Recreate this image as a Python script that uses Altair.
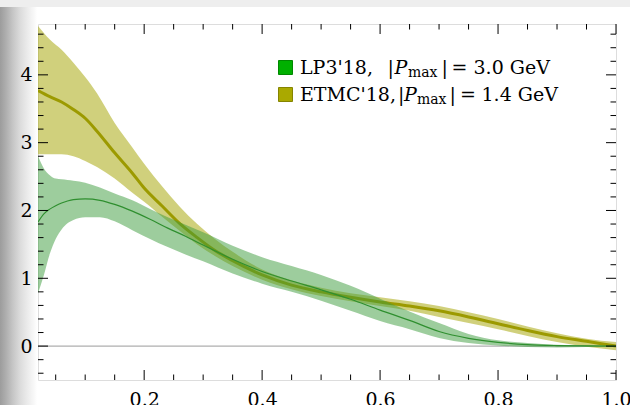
import altair as alt
import pandas as pd

# ---------------- data ----------------
lp3_x = [0.02, 0.03, 0.04, 0.05, 0.06, 0.07, 0.08, 0.10, 0.125, 0.15, 0.18, 0.21, 0.24,
         0.27, 0.30, 0.35, 0.40, 0.45, 0.50, 0.55, 0.60, 0.65, 0.70, 0.75, 0.80, 0.85,
         0.90, 0.95, 1.0]
lp3_mid = [1.83, 1.95, 2.02, 2.07, 2.11, 2.14, 2.16, 2.17, 2.15, 2.09, 1.99, 1.87, 1.74,
           1.62, 1.49, 1.28, 1.10, 0.96, 0.83, 0.69, 0.53, 0.38, 0.215, 0.115, 0.055, 0.022,
           0.008, 0.002, 0.0]
lp3_hi = [2.80, 2.62, 2.52, 2.47, 2.46, 2.45, 2.44, 2.41, 2.34, 2.25, 2.15, 2.02, 1.90,
          1.79, 1.68, 1.48, 1.31, 1.18, 1.05, 0.89, 0.70, 0.51, 0.34, 0.18, 0.085, 0.045,
          0.02, 0.01, 0.0]
lp3_lo = [0.78, 1.05, 1.36, 1.58, 1.72, 1.81, 1.86, 1.90, 1.90, 1.84, 1.71, 1.58, 1.46,
          1.35, 1.25, 1.07, 0.92, 0.80, 0.67, 0.52, 0.37, 0.25, 0.12, 0.045, 0.01, -0.015,
          -0.02, -0.015, 0.0]

etmc_x = [0.02, 0.04, 0.06, 0.08, 0.10, 0.12, 0.15, 0.18, 0.20, 0.23, 0.26, 0.29, 0.32,
          0.35, 0.40, 0.45, 0.50, 0.55, 0.60, 0.65, 0.70, 0.75, 0.80, 0.85, 0.90, 0.95, 1.0]
etmc_mid = [3.77, 3.68, 3.60, 3.49, 3.36, 3.17, 2.85, 2.55, 2.33, 2.07, 1.81, 1.60, 1.41,
            1.26, 1.05, 0.90, 0.80, 0.72, 0.65, 0.59, 0.52, 0.43, 0.33, 0.23, 0.14, 0.07, 0.0]
etmc_hi = [4.72, 4.52, 4.37, 4.18, 3.97, 3.73, 3.29, 2.93, 2.69, 2.36, 2.06, 1.80, 1.58,
           1.39, 1.13, 0.97, 0.86, 0.78, 0.72, 0.66, 0.59, 0.50, 0.40, 0.29, 0.19, 0.11, 0.06]
etmc_lo = [2.83, 2.83, 2.83, 2.80, 2.73, 2.64, 2.47, 2.26, 2.13, 1.91, 1.70, 1.50, 1.33,
           1.18, 0.98, 0.84, 0.74, 0.66, 0.59, 0.52, 0.43, 0.34, 0.25, 0.15, 0.06, -0.01, -0.06]

series_names = ["LP3'18", "ETMC'18"]
pmax_values = ["3.0", "1.4"]

x_tick_labels = [0.2, 0.4, 0.6, 0.8, 1.0]
y_tick_labels = [0, 1, 2, 3, 4]
x_minor = [0.05, 0.1, 0.15, 0.25, 0.3, 0.35, 0.45, 0.5, 0.55, 0.65, 0.7, 0.75, 0.85, 0.9, 0.95]
y_minor = [-0.4, -0.2, 0.2, 0.4, 0.6, 0.8, 1.2, 1.4, 1.6, 1.8, 2.2, 2.4, 2.6, 2.8,
           3.2, 3.4, 3.6, 3.8, 4.2, 4.4, 4.6]

# ---------------- layout ----------------
W, H = 578, 356
PL, PT, PR, PB = 38, 24, 14, 25
FONT = "DejaVu Serif"

xs = alt.Scale(domain=[0.02, 1.0], nice=False, zero=False)
ys = alt.Scale(domain=[-0.5, 4.75], nice=False, zero=False)

xaxis = alt.Axis(values=x_tick_labels, format=".1f", ticks=False, tickSize=0, domain=False,
                 grid=False, labelFont=FONT, labelFontSize=19, labelColor="black",
                 labelPadding=10, labelFlush=False, labelOverlap=False, title=None, zindex=1)
yaxis = alt.Axis(values=y_tick_labels, format="d", ticks=False, tickSize=0, domain=False,
                 grid=False, labelFont=FONT, labelFontSize=19, labelColor="black",
                 labelPadding=6, labelFlush=False, labelOverlap=False, title=None, zindex=1)

one = pd.DataFrame({"a": [0]})
lp3 = pd.DataFrame({"x": lp3_x, "lo": lp3_lo, "mid": lp3_mid, "hi": lp3_hi})
etmc = pd.DataFrame({"x": etmc_x, "lo": etmc_lo, "mid": etmc_mid, "hi": etmc_hi})

layers = []

X = alt.X("x:Q", scale=xs, axis=xaxis)

# zero line
layers.append(alt.Chart(pd.DataFrame({"y": [0]})).mark_rule(color="#9a9a9a", strokeWidth=1).encode(
    y=alt.Y("y:Q", scale=ys, axis=yaxis)))

layers.append(alt.Chart(etmc).mark_area(interpolate="monotone", color="#aaaa10", opacity=0.55,
                                        clip=True).encode(
    x=X, y=alt.Y("hi:Q", scale=ys, axis=yaxis), y2="lo:Q"))
layers.append(alt.Chart(etmc).mark_line(interpolate="monotone", color="#9c9a00", strokeWidth=3,
                                        clip=True).encode(
    x=X, y=alt.Y("mid:Q", scale=ys, axis=yaxis)))
layers.append(alt.Chart(lp3).mark_area(interpolate="monotone", color="#3c9c3c", opacity=0.5,
                                       clip=True).encode(
    x=X, y=alt.Y("hi:Q", scale=ys, axis=yaxis), y2="lo:Q"))
layers.append(alt.Chart(lp3).mark_line(interpolate="monotone", color="#2f8f2f", strokeWidth=1.2,
                                       clip=True).encode(
    x=X, y=alt.Y("mid:Q", scale=ys, axis=yaxis)))

# inward frame ticks
def yticks(vals, a, b):
    return alt.Chart(pd.DataFrame({"v": vals})).mark_rule(color="black", strokeWidth=1).encode(
        y=alt.Y("v:Q", scale=ys, axis=yaxis), x=alt.value(a), x2=alt.value(b))

def xticks(vals, a, b):
    return alt.Chart(pd.DataFrame({"v": vals})).mark_rule(color="black", strokeWidth=1).encode(
        x=alt.X("v:Q", scale=xs, axis=xaxis), y=alt.value(a), y2=alt.value(b))

layers += [
    yticks(y_tick_labels, 0, 10), yticks(y_minor, 0, 5.5),
    yticks(y_tick_labels, W - 10, W), yticks(y_minor, W - 5.5, W),
    xticks(x_tick_labels, H - 10, H), xticks(x_minor, H - 5.5, H),
    xticks(x_tick_labels, 0, 10), xticks(x_minor, 0, 5.5),
]

# decorative background (page edge shading seen in the reference)
grad = alt.Gradient(
    gradient="linear", x1=0, x2=1, y1=0, y2=0,
    stops=[alt.GradientStop(offset=0, color="#9c9c9c"),
           alt.GradientStop(offset=0.15, color="#adadad"),
           alt.GradientStop(offset=0.35, color="#c6c6c6"),
           alt.GradientStop(offset=0.55, color="#dcdcdc"),
           alt.GradientStop(offset=0.75, color="#ececec"),
           alt.GradientStop(offset=0.92, color="#f8f8f8"),
           alt.GradientStop(offset=1, color="#ffffff")])
layers.append(alt.Chart(one).mark_rect(color=grad).encode(
    x=alt.value(-PL), x2=alt.value(-1), y=alt.value(-PT), y2=alt.value(H + PB)))
layers.append(alt.Chart(one).mark_rect(color="#eeeeee").encode(
    x=alt.value(-PL), x2=alt.value(W + PR), y=alt.value(-PT), y2=alt.value(-PT + 7)))

# legend (drawn by hand to allow italic P and subscript "max")
sq_fill = ["#00b000", "#aaa900"]
sq_stroke = ["#008800", "#858400"]
row_y = [67.5, 94.5]
baseline = [73.5, 100.5]
seg_x = [
    [300, 387.5, 394.5, 408, 441.5, 451.5, 473.5],
    [300, 398, 404, 417, 449.5, 460, 481.5],
]
for i in range(2):
    layers.append(alt.Chart(one).mark_square(size=196, color=sq_fill[i], stroke=sq_stroke[i],
                                             strokeWidth=1, opacity=1, filled=True).encode(
        x=alt.value(285.5 - PL), y=alt.value(row_y[i] - PT)))
    segs = [
        (series_names[i] + ",", 19, "normal", 0),
        ("|", 19, "normal", 0),
        ("P", 19, "italic", 0),
        ("max", 14, "normal", 3.2),
        ("|", 19, "normal", 0),
        ("=", 19, "normal", 0),
        (pmax_values[i] + " GeV", 19, "normal", 0),
    ]
    for (txt, fs, style, dy), sx in zip(segs, seg_x[i]):
        layers.append(alt.Chart(one).mark_text(text=txt, font=FONT, fontSize=fs, fontStyle=style,
                                               align="left", baseline="alphabetic",
                                               color="black").encode(
            x=alt.value(sx - PL), y=alt.value(baseline[i] - PT + dy)))

chart = alt.layer(*layers).properties(
    width=W, height=H,
    autosize=alt.AutoSizeParams(type="none"),
    padding={"left": PL, "top": PT, "right": PR, "bottom": PB},
).configure_view(stroke="black", strokeWidth=1).configure(background="white")

chart.save("out.html", embed_options={"renderer": "svg", "actions": False})
